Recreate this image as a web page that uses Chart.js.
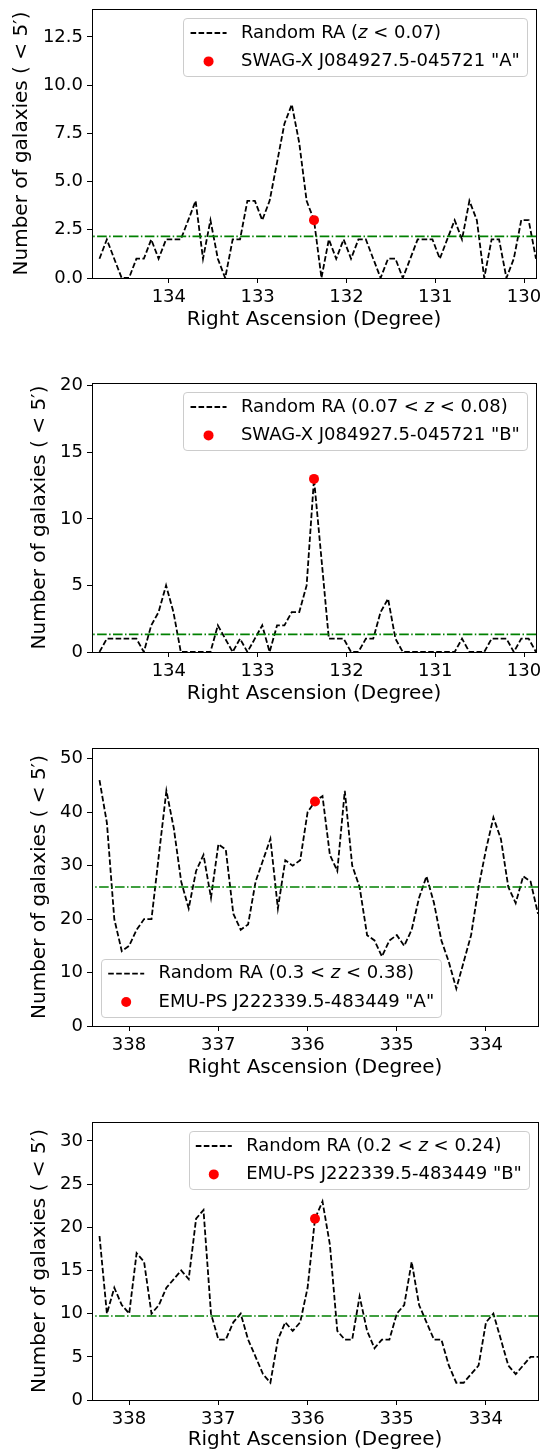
<!DOCTYPE html>
<html>
<head>
<meta charset="utf-8">
<title>Random RA galaxy counts</title>
<script src="https://cdn.jsdelivr.net/npm/chart.js@4.4.1/dist/chart.umd.min.js"></script>
<style>
  html, body { margin: 0; padding: 0; background: #fff; }
  #wrap { position: relative; width: 543px; height: 1452px; overflow: hidden; }
  #wrap canvas { position: absolute; left: 0; }
</style>
</head>
<body>
<div id="wrap">
  <canvas id="panelA" width="543" height="363" style="top:0px"></canvas>
  <canvas id="panelB" width="543" height="363" style="top:363px"></canvas>
  <canvas id="panelC" width="543" height="363" style="top:726px"></canvas>
  <canvas id="panelD" width="543" height="363" style="top:1089px"></canvas>
</div>
<script>
// RA of the random apertures (deg), one every 5 arcmin
const raSwag = [
  134.781, 134.698, 134.615, 134.531, 134.448, 134.365, 134.281, 134.198, 134.115, 134.031,
  133.948, 133.865, 133.781, 133.698, 133.615, 133.531, 133.448, 133.365, 133.281, 133.198,
  133.115, 133.031, 132.948, 132.865, 132.781, 132.698, 132.615, 132.531, 132.448, 132.365,
  132.281, 132.198, 132.115, 132.031, 131.948, 131.865, 131.781, 131.698, 131.615, 131.531,
  131.448, 131.365, 131.281, 131.198, 131.115, 131.031, 130.948, 130.865, 130.781, 130.698,
  130.615, 130.531, 130.448, 130.365, 130.281, 130.198, 130.115, 130.031, 129.948, 129.865
];
const raEmu = [
  338.331, 338.248, 338.165, 338.081, 337.998, 337.915, 337.831, 337.748, 337.665, 337.581,
  337.498, 337.415, 337.331, 337.248, 337.165, 337.081, 336.998, 336.915, 336.831, 336.748,
  336.665, 336.581, 336.498, 336.415, 336.331, 336.248, 336.165, 336.081, 335.998, 335.915,
  335.831, 335.748, 335.665, 335.581, 335.498, 335.415, 335.331, 335.248, 335.165, 335.081,
  334.998, 334.915, 334.831, 334.748, 334.665, 334.581, 334.498, 334.415, 334.331, 334.248,
  334.165, 334.081, 333.998, 333.915, 333.831, 333.748, 333.665, 333.581, 333.498, 333.415
];

// galaxy counts inside 5' at each random RA
const countsSwagA = [
  1, 2, 1, 0, 0, 1, 1, 2, 1, 2,
  2, 2, 3, 4, 1, 3, 1, 0, 2, 2,
  4, 4, 3, 4, 6, 8, 9, 7, 4, 3,
  0, 2, 1, 2, 1, 2, 2, 1, 0, 1,
  1, 0, 1, 2, 2, 2, 1, 2, 3, 2,
  4, 3, 0, 2, 2, 0, 1, 3, 3, 1
];
const countsSwagB = [
  0, 1, 1, 1, 1, 1, 0, 2, 3, 5,
  3, 0, 0, 0, 0, 0, 2, 1, 0, 1,
  0, 1, 2, 0, 2, 2, 3, 3, 5, 13,
  7, 1, 1, 1, 0, 0, 1, 1, 3, 4,
  1, 0, 0, 0, 0, 0, 0, 0, 0, 1,
  0, 0, 0, 1, 1, 1, 0, 1, 1, 0
];
const countsEmuA = [
  46, 38, 20, 14, 15, 18, 20, 20, 32, 44,
  37, 27, 22, 29, 32, 24, 34, 33, 21, 18,
  19, 27, 31, 35, 22, 31, 30, 31, 40, 42,
  43, 32, 29, 44, 30, 26, 17, 16, 13, 16,
  17, 15, 18, 24, 28, 23, 16, 12, 7, 12,
  17, 26, 33, 39, 35, 26, 23, 28, 27, 21
];
const countsEmuB = [
  19, 10, 13, 11, 10, 17, 16, 10, 11, 13,
  14, 15, 14, 21, 22, 10, 7, 7, 9, 10,
  7, 5, 3, 2, 7, 9, 8, 9, 13, 21,
  23, 18, 8, 7, 7, 12, 8, 6, 7, 7,
  10, 11, 16, 11, 9, 7, 7, 4, 2, 2,
  3, 4, 9, 10, 7, 4, 3, 4, 5, 5
];

// mean level (dash-dot line) per panel
const meanLevels = [2.16, 1.32, 26.0, 9.73];

// the cluster position and its count
const clusterRa = [132.365, 132.365, 335.915, 335.915];
const clusterCounts = [3, 13, 42, 21];

const randomLabels = [
  'Random RA (z < 0.07)',
  'Random RA (0.07 < z < 0.08)',
  'Random RA (0.3 < z < 0.38)',
  'Random RA (0.2 < z < 0.24)'
];
const clusterLabels = [
  'SWAG-X J084927.5-045721 "A"',
  'SWAG-X J084927.5-045721 "B"',
  'EMU-PS J222339.5-483449 "A"',
  'EMU-PS J222339.5-483449 "B"'
];

// axis limits and ticks
const raRanges = [[129.865, 134.865], [129.865, 134.865], [333.415, 338.415], [333.415, 338.415]];
const raTicksSwag = [130, 131, 132, 133, 134];
const raTicksEmu = [334, 335, 336, 337, 338];
const yMaxes = [13.95, 20.2, 52, 32.2];
const yTickSteps = [2.5, 5, 10, 5];
const yTickDigits = [1, 0, 0, 0];

const xTitle = 'Right Ascension (Degree)';
const yTitle = 'Number of galaxies ( < 5\u2032)';

// layout of each canvas (pixels inside its own 543x363 canvas)
const panels = [
  { id: 'panelA', ra: raSwag, counts: countsSwagA, xTicks: raTicksSwag, box: { left: 92, right: 536, top: 9, bottom: 278 }, yTitleX: 22, corner: 'upper right' },
  { id: 'panelB', ra: raSwag, counts: countsSwagB, xTicks: raTicksSwag, box: { left: 92, right: 536, top: 20, bottom: 289 }, yTitleX: 40, corner: 'upper right' },
  { id: 'panelC', ra: raEmu, counts: countsEmuA, xTicks: raTicksEmu, box: { left: 92, right: 542, top: 22, bottom: 300 }, yTitleX: 40, corner: 'lower left' },
  { id: 'panelD', ra: raEmu, counts: countsEmuB, xTicks: raTicksEmu, box: { left: 92, right: 542, top: 33, bottom: 311 }, yTitleX: 40, corner: 'upper right' }
];

const FONT = '"DejaVu Sans", sans-serif';
const CANVAS_W = 543, CANVAS_H = 363;
const lineDash = [5.6, 2.4];
const meanDash = [9.6, 2.4, 1.5, 2.4];
const dotRadius = 5;

Chart.defaults.font.family = FONT;
Chart.defaults.color = '#000';

// black frame around the plot area (matplotlib style box)
const axesFrame = {
  id: 'axesFrame',
  afterDatasetsDraw(chart) {
    const { ctx, chartArea: a } = chart;
    ctx.save();
    ctx.strokeStyle = '#000';
    ctx.lineWidth = 1;
    const l = Math.floor(a.left) + 0.5, t = Math.floor(a.top) + 0.5;
    const r = Math.floor(a.right) + 0.5, b = Math.floor(a.bottom) + 0.5;
    ctx.strokeRect(l, t, r - l, b - t);
    ctx.restore();
  }
};

// a label like "Random RA (z < 0.07)" with the z in italics
function labelParts(text) {
  return text.split(/(\bz\b)/).filter(s => s.length).map(s => ({ text: s, italic: s === 'z' }));
}
function partFont(p, size) {
  return (p.italic ? 'italic ' : '') + size + 'px ' + FONT;
}
function labelWidth(ctx, text, size) {
  let w = 0;
  for (const p of labelParts(text)) {
    ctx.font = partFont(p, size);
    w += ctx.measureText(p.text).width;
  }
  return w;
}
function drawLabel(ctx, text, x, y, size) {
  ctx.textAlign = 'left';
  ctx.textBaseline = 'middle';
  ctx.fillStyle = '#000';
  for (const p of labelParts(text)) {
    ctx.font = partFont(p, size);
    ctx.fillText(p.text, x, y);
    x += ctx.measureText(p.text).width;
  }
}

// legend box drawn inside the plot area
const boxLegend = {
  id: 'boxLegend',
  afterDraw(chart, args, opts) {
    const { ctx, chartArea: a } = chart;
    const items = chart.data.datasets.filter(d => d.legendRank !== undefined)
      .sort((p, q) => p.legendRank - q.legendRank);
    const size = opts.size;
    ctx.save();
    let textW = 0;
    items.forEach(d => { textW = Math.max(textW, labelWidth(ctx, d.label, size)); });
    const w = 2 * opts.pad + opts.handle + opts.gap + textW;
    const h = 2 * opts.edge + (items.length - 1) * opts.pitch;
    let x0, y0;
    if (opts.corner === 'lower left') {
      x0 = a.left + opts.inset;
      y0 = a.bottom - opts.inset - h;
    } else {
      x0 = a.right - opts.inset - w;
      y0 = a.top + opts.inset;
    }
    ctx.beginPath();
    ctx.roundRect(Math.round(x0) + 0.5, Math.round(y0) + 0.5, Math.round(w), Math.round(h), opts.radius);
    ctx.fillStyle = 'rgba(255,255,255,0.8)';
    ctx.fill();
    ctx.strokeStyle = '#cccccc';
    ctx.lineWidth = 1;
    ctx.stroke();

    items.forEach((d, i) => {
      const cy = y0 + opts.edge + i * opts.pitch;
      const hx = x0 + opts.pad;
      if (d.showLine) {
        ctx.beginPath();
        ctx.setLineDash(d.borderDash || []);
        ctx.strokeStyle = d.borderColor;
        ctx.lineWidth = d.borderWidth;
        ctx.moveTo(hx, cy);
        ctx.lineTo(hx + opts.handle, cy);
        ctx.stroke();
        ctx.setLineDash([]);
      } else {
        ctx.beginPath();
        ctx.fillStyle = d.backgroundColor;
        ctx.arc(hx + opts.handle / 2, cy, d.pointRadius, 0, Math.PI * 2);
        ctx.fill();
      }
      drawLabel(ctx, d.label, hx + opts.handle + opts.gap, cy, size);
    });
    ctx.restore();
  }
};

Chart.register(axesFrame, boxLegend);

function makePanel(p, i) {
  const box = p.box;
  const range = raRanges[i];
  const xAxisH = CANVAS_H - box.bottom;
  const titlePadBottom = Math.max(0, CANVAS_H - 12 - box.bottom - 42);

  const randomPoints = p.ra.map((ra, k) => ({ x: ra, y: p.counts[k] }));

  new Chart(document.getElementById(p.id), {
    type: 'line',
    data: {
      datasets: [
        {
          type: 'scatter',
          label: clusterLabels[i],
          legendRank: 1,
          showLine: false,
          data: [{ x: clusterRa[i], y: clusterCounts[i] }],
          backgroundColor: '#ff0000',
          borderWidth: 0,
          pointRadius: dotRadius,
          order: 0
        },
        {
          label: 'mean',
          data: [{ x: range[0], y: meanLevels[i] }, { x: range[1], y: meanLevels[i] }],
          borderColor: '#008000',
          borderWidth: 1.7,
          borderDash: meanDash,
          pointRadius: 0,
          fill: false,
          order: 1
        },
        {
          label: randomLabels[i],
          legendRank: 0,
          showLine: true,
          data: randomPoints,
          borderColor: '#000000',
          borderWidth: 1.8,
          borderDash: lineDash,
          pointRadius: 0,
          tension: 0,
          fill: false,
          order: 2
        }
      ]
    },
    options: {
      responsive: false,
      animation: false,
      devicePixelRatio: 1,
      events: [],
      layout: {
        padding: { left: 0, right: CANVAS_W - box.right, top: box.top, bottom: 0 }
      },
      plugins: {
        legend: { display: false },
        tooltip: { enabled: false },
        boxLegend: {
          corner: p.corner,
          size: 18,
          pad: 7.2,
          handle: 36,
          gap: 14.4,
          edge: 15,
          pitch: 28.4,
          inset: 9,
          radius: 3.6
        }
      },
      scales: {
        x: {
          type: 'linear',
          reverse: true,
          min: range[0],
          max: range[1],
          border: { display: false },
          grid: { display: true, drawOnChartArea: false, drawTicks: true, tickLength: 5, color: '#000', tickWidth: 1 },
          ticks: {
            autoSkip: false,
            maxRotation: 0,
            padding: 4,
            color: '#000',
            font: { size: 18 },
            callback: v => String(Math.round(v))
          },
          afterBuildTicks(scale) {
            scale.ticks = p.xTicks.map(v => ({ value: v }));
          },
          title: {
            display: true,
            text: xTitle,
            color: '#000',
            font: { size: 20 },
            padding: { top: 0, bottom: titlePadBottom }
          },
          afterFit(scale) {
            scale.height = xAxisH;
            scale.paddingLeft = 0;
            scale.paddingRight = 0;
          }
        },
        y: {
          type: 'linear',
          min: 0,
          max: yMaxes[i],
          border: { display: false },
          grid: { display: true, drawOnChartArea: false, drawTicks: true, tickLength: 5, color: '#000', tickWidth: 1 },
          ticks: {
            stepSize: yTickSteps[i],
            includeBounds: false,
            padding: 4,
            color: '#000',
            font: { size: 18 },
            callback: v => Number(v).toFixed(yTickDigits[i])
          },
          title: {
            display: true,
            text: yTitle,
            color: '#000',
            font: { size: 20 },
            padding: { top: p.yTitleX - 12, bottom: 0 }
          },
          afterFit(scale) {
            scale.width = box.left;
            scale.paddingTop = 0;
            scale.paddingBottom = 0;
          }
        }
      }
    }
  });
}

panels.forEach(makePanel);
</script>
</body>
</html>
